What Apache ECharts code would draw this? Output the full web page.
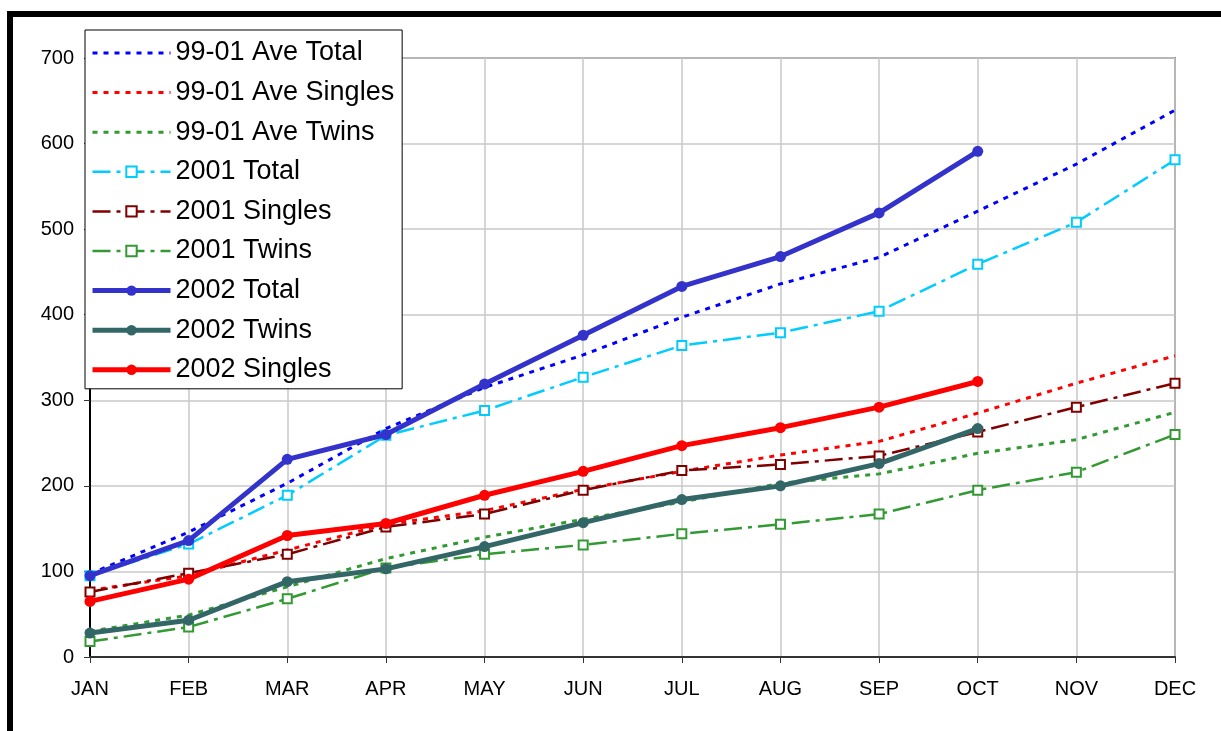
<!DOCTYPE html>
<html>
<head>
<meta charset="utf-8">
<script src="https://cdn.jsdelivr.net/npm/echarts@6/dist/echarts.min.js"></script>
<style>
html,body{margin:0;padding:0;background:#fff;}
#main{width:1221px;height:731px;}
</style>
</head>
<body>
<div id="main"></div>
<script>
// months
var months = ['JAN','FEB','MAR','APR','MAY','JUN','JUL','AUG','SEP','OCT','NOV','DEC'];

// 99-01 averages
var aveTotal   = [97,146,203,267,315,353,397,436,467,521,576,639];
var aveSingles = [78,95,125,155,171,196,217,236,252,285,320,352];
var aveTwins   = [30,49,82,115,140,161,181,203,214,238,254,286];

// 2001
var y01Total   = [95,132,189,259,288,327,364,379,404,459,508,581];
var y01Singles = [76,98,120,152,167,195,218,225,235,263,292,320];
var y01Twins   = [18,35,68,104,120,131,144,155,167,195,216,260];

// 2002 (to OCT)
var y02Total   = [95,136,231,260,319,376,433,468,519,591];
var y02Twins   = [28,43,88,103,129,157,184,200,226,267];
var y02Singles = [65,91,142,156,189,217,247,268,292,322];

var yTicks = [0,100,200,300,400,500,600,700];

var FONT = '"Liberation Sans", Arial, sans-serif';

function dotted(name, data, color){
	return {
		name:name, type:'line', data:data, symbol:'none', z:2,
		lineStyle:{color:color,width:3,type:[5,6]},
		itemStyle:{color:color}
	};
}
function dashDot(name, data, color){
	return {
		name:name, type:'line', data:data, z:3,
		symbol:'rect', symbolSize:9, showAllSymbol:true,
		lineStyle:{color:color,width:2.5,type:[18,6,4,6]},
		itemStyle:{color:'#fff',borderColor:color,borderWidth:2}
	};
}
function solid(name, data, color){
	return {
		name:name, type:'line', data:data, z:4,
		symbol:'circle', symbolSize:11, showAllSymbol:true,
		lineStyle:{color:color,width:5},
		itemStyle:{color:color}
	};
}

// legend rows; the dotted averages have no marker
var noMark = {color:'rgba(0,0,0,0)',borderWidth:0};
var legendRows = [
	{name:'99-01 Ave Total',itemStyle:noMark},
	{name:'99-01 Ave Singles',itemStyle:noMark},
	{name:'99-01 Ave Twins',itemStyle:noMark},
	{name:'2001 Total'},
	{name:'2001 Singles'},
	{name:'2001 Twins'},
	{name:'2002 Total'},
	{name:'2002 Twins'},
	{name:'2002 Singles'}
];

var myChart = echarts.init(document.getElementById('main'));
var option = {
	animation:false,
	backgroundColor:'#fff',
	textStyle:{fontFamily:FONT},
	graphic:[
		{type:'rect',shape:{x:7,y:11,width:1214,height:6},style:{fill:'#000'},z:10},
		{type:'rect',shape:{x:7,y:11,width:6,height:720},style:{fill:'#000'},z:10}
	],
	grid:{left:90,right:46,top:58,bottom:74,show:true,borderColor:'#808080',borderWidth:2,backgroundColor:'transparent'},
	legend:{
		orient:'vertical', left:85, top:30,
		padding:[8,8,4,5],
		itemWidth:78, itemHeight:13, itemGap:9.6,
		backgroundColor:'#fff', borderColor:'#000', borderWidth:1,
		lineStyle:{width:'inherit'},
		itemStyle:{borderWidth:2},
		textStyle:{fontFamily:FONT,fontSize:27,color:'#000',lineHeight:30},
		data:legendRows
	},
	xAxis:{
		type:'category', data:months, boundaryGap:false,
		axisLine:{lineStyle:{color:'#333',width:2}},
		axisTick:{show:true,length:6,lineStyle:{color:'#333'}},
		axisLabel:{fontFamily:FONT,fontSize:20,color:'#000',margin:22},
		splitLine:{show:true,lineStyle:{color:'#c8c8c8',width:1.5}}
	},
	yAxis:{
		type:'value', min:yTicks[0], max:yTicks[yTicks.length-1], interval:100,
		axisLine:{show:true,lineStyle:{color:'#000',width:2}},
		axisTick:{show:true,length:6,lineStyle:{color:'#333'}},
		axisLabel:{fontFamily:FONT,fontSize:20,color:'#000',margin:16},
		splitLine:{show:true,lineStyle:{color:'#c8c8c8',width:1.5}}
	},
	series:[
		dotted('99-01 Ave Total',aveTotal,'#0000ff'),
		dotted('99-01 Ave Singles',aveSingles,'#ff0000'),
		dotted('99-01 Ave Twins',aveTwins,'#339933'),
		dashDot('2001 Total',y01Total,'#00ccff'),
		dashDot('2001 Singles',y01Singles,'#800000'),
		dashDot('2001 Twins',y01Twins,'#339933'),
		solid('2002 Total',y02Total,'#3333cc'),
		solid('2002 Twins',y02Twins,'#336666'),
		solid('2002 Singles',y02Singles,'#ff0000')
	]
};
myChart.setOption(option);
</script>
</body>
</html>
